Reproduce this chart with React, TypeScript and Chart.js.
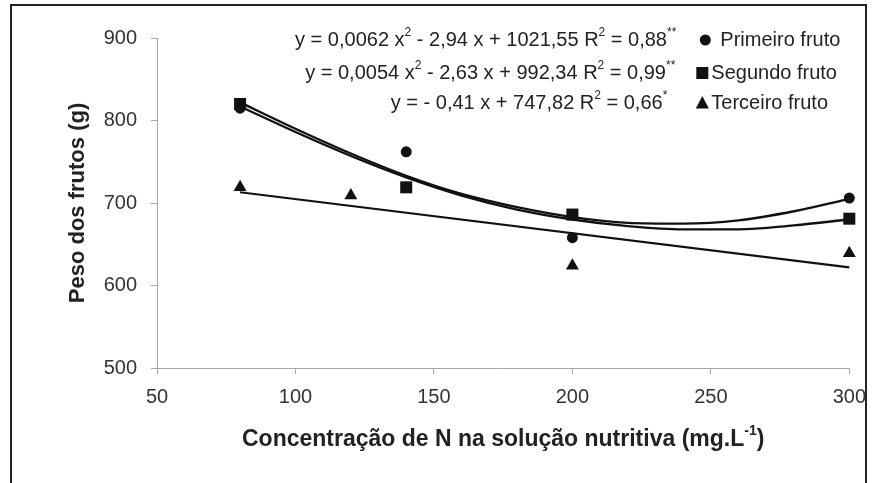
import React, { useEffect, useRef } from "react";
import { Chart, registerables } from "chart.js";

Chart.register(...registerables);

// ---- data ----
const pointX = [80, 140, 200, 300];
const primeiroValues = [815, 762, 658, 706];
const segundoValues = [820, 719, 686, 681];
const terceiroX = [80, 120, 200, 300];
const terceiroValues = [719, 709, 624, 639];

const fitX = [80, 100, 120, 140, 160, 180, 200, 220, 240, 260, 280, 300];
const primeiroFit = [822, 790, 760, 733, 711, 695, 683, 676, 675, 679, 690, 705];
const segundoFit = [817, 786, 757, 731, 709, 692, 680, 672, 668, 668, 673, 680];
const linearX = [80, 300];
const terceiroFit = [713, 622];

const xTicks = [50, 100, 150, 200, 250, 300];
const yTicks = [500, 600, 700, 800, 900];

const seriesNames = ["Primeiro fruto", "Segundo fruto", "Terceiro fruto"];
type Run = [string, boolean];
const equations: Run[][] = [
  [["y = 0,0062 x", false], ["2", true], [" - 2,94 x + 1021,55 R", false], ["2", true], [" = 0,88", false], ["**", true]],
  [["y = 0,0054 x", false], ["2", true], [" - 2,63 x + 992,34 R", false], ["2", true], [" = 0,99", false], ["**", true]],
  [["y = - 0,41 x + 747,82 R", false], ["2", true], [" = 0,66", false], ["*", true]],
];
const xTitle: Run[] = [["Concentração de N na solução nutritiva (mg.L", false], ["-1", true], [")", false]];
const yTitle = "Peso dos frutos (g)";

const FONT = "'Liberation Sans', Arial, Helvetica, sans-serif";
const TEXT = "#222";
const INK = "#111";
const AXIS = "#a8a8a8";

function drawRuns(
  ctx: CanvasRenderingContext2D,
  runs: Run[],
  x: number,
  y: number,
  align: "left" | "right" | "center",
  size: number,
  weight: string
) {
  const supSize = Math.round(size * 0.62);
  const fontFor = (sup: boolean) => `${weight} ${sup ? supSize : size}px ${FONT}`;
  let total = 0;
  const widths = runs.map(([t, sup]) => {
    ctx.font = fontFor(sup);
    const w = ctx.measureText(t).width;
    total += w;
    return w;
  });
  let cx = align === "right" ? x - total : align === "center" ? x - total / 2 : x;
  ctx.textAlign = "left";
  ctx.textBaseline = "middle";
  runs.forEach(([t, sup], i) => {
    ctx.font = fontFor(sup);
    ctx.fillText(t, cx, sup ? y - size * 0.38 : y);
    cx += widths[i];
  });
}

const annotationPlugin = {
  id: "annotations",
  afterDraw(chart: any) {
    const ctx: CanvasRenderingContext2D = chart.ctx;
    const area = chart.chartArea;
    ctx.save();
    ctx.fillStyle = TEXT;
    // equations, right aligned
    const eqRight = [area.right - 173, area.right - 174, area.right - 182];
    const rowY = [area.top + 2, area.top + 35, area.top + 65];
    equations.forEach((runs, i) => drawRuns(ctx, runs, eqRight[i], rowY[i], "right", 20, "normal"));
    // legend markers
    ctx.fillStyle = INK;
    const mx = [area.right - 144, area.right - 147, area.right - 147];
    ctx.beginPath();
    ctx.arc(mx[0], rowY[0], 5.5, 0, Math.PI * 2);
    ctx.fill();
    ctx.fillRect(mx[1] - 6, rowY[1] - 6, 12, 12);
    ctx.beginPath();
    ctx.moveTo(mx[2], rowY[2] - 7);
    ctx.lineTo(mx[2] + 6.5, rowY[2] + 5.5);
    ctx.lineTo(mx[2] - 6.5, rowY[2] + 5.5);
    ctx.closePath();
    ctx.fill();
    // legend texts
    ctx.fillStyle = TEXT;
    const tx = [area.right - 129, area.right - 138, area.right - 138];
    seriesNames.forEach((n, i) => drawRuns(ctx, [[n, false]], tx[i], rowY[i], "left", 20, "normal"));
    // x axis title
    drawRuns(ctx, xTitle, (area.left + area.right) / 2, area.bottom + 72, "center", 23, "bold");
    ctx.restore();
  },
};

const tickCommon = {
  font: { size: 20, family: FONT },
  color: "#333",
};

export default function App() {
  const ref = useRef<HTMLCanvasElement | null>(null);
  useEffect(() => {
    if (!ref.current) return;
    const chart = new Chart(ref.current, {
      type: "scatter",
      data: {
        datasets: [
          {
            type: "line",
            label: "fit1",
            data: fitX.map((x, i) => ({ x, y: primeiroFit[i] })),
            borderColor: INK,
            borderWidth: 2.3,
            pointRadius: 0,
            cubicInterpolationMode: "monotone",
            fill: false,
            clip: false,
          },
          {
            type: "line",
            label: "fit2",
            data: fitX.map((x, i) => ({ x, y: segundoFit[i] })),
            borderColor: INK,
            borderWidth: 2.3,
            pointRadius: 0,
            cubicInterpolationMode: "monotone",
            fill: false,
            clip: false,
          },
          {
            type: "line",
            label: "fit3",
            data: linearX.map((x, i) => ({ x, y: terceiroFit[i] })),
            borderColor: INK,
            borderWidth: 2.1,
            pointRadius: 0,
            fill: false,
            clip: false,
          },
          {
            label: seriesNames[0],
            data: pointX.map((x, i) => ({ x, y: primeiroValues[i] })),
            pointStyle: "circle",
            pointRadius: 5.5,
            backgroundColor: INK,
            borderColor: INK,
            borderWidth: 0,
            clip: false,
          },
          {
            label: seriesNames[1],
            data: pointX.map((x, i) => ({ x, y: segundoValues[i] })),
            pointStyle: "rect",
            pointRadius: 8.5,
            backgroundColor: INK,
            borderColor: INK,
            borderWidth: 0,
            clip: false,
          },
          {
            label: seriesNames[2],
            data: terceiroX.map((x, i) => ({ x, y: terceiroValues[i] })),
            pointStyle: "triangle",
            pointRadius: 7.5,
            backgroundColor: INK,
            borderColor: INK,
            borderWidth: 0,
            clip: false,
          },
        ] as any,
      },
      options: {
        animation: false,
        responsive: false,
        devicePixelRatio: 1,
        layout: { padding: { left: 57, right: 27, top: 38, bottom: 15 } },
        plugins: { legend: { display: false }, tooltip: { enabled: false } },
        scales: {
          x: {
            type: "linear",
            min: 50,
            max: 300,
            afterBuildTicks: (s: any) => {
              s.ticks = xTicks.map((v) => ({ value: v }));
            },
            afterFit: (s: any) => {
              s.height = 100;
            },
            ticks: { ...tickCommon, padding: 11, maxRotation: 0 },
            grid: { drawOnChartArea: false, drawTicks: true, tickLength: 6, color: AXIS },
            border: { color: AXIS, width: 1 },
          },
          y: {
            type: "linear",
            min: 500,
            max: 900,
            afterBuildTicks: (s: any) => {
              s.ticks = yTicks.map((v) => ({ value: v }));
            },
            afterFit: (s: any) => {
              s.width = 100;
            },
            ticks: { ...tickCommon, padding: 14 },
            grid: { drawOnChartArea: false, drawTicks: true, tickLength: 6, color: AXIS },
            border: { color: AXIS, width: 1 },
            title: {
              display: true,
              text: yTitle,
              color: TEXT,
              font: { size: 22, weight: "bold", family: FONT },
              padding: { top: 8, bottom: 0 },
            },
          },
        },
      } as any,
      plugins: [annotationPlugin],
    });
    return () => chart.destroy();
  }, []);

  return (
    <div style={{ position: "fixed", left: 0, top: 0, width: 877, height: 483, overflow: "hidden", background: "#fff" }}>
      <div
        style={{
          position: "absolute",
          left: 10,
          top: 4,
          width: 857,
          height: 540,
          border: "2px solid #222",
          boxSizing: "border-box",
        }}
      />
      <canvas ref={ref} width={877} height={483} style={{ position: "absolute", left: 0, top: 0, width: 877, height: 483 }} />
    </div>
  );
}
